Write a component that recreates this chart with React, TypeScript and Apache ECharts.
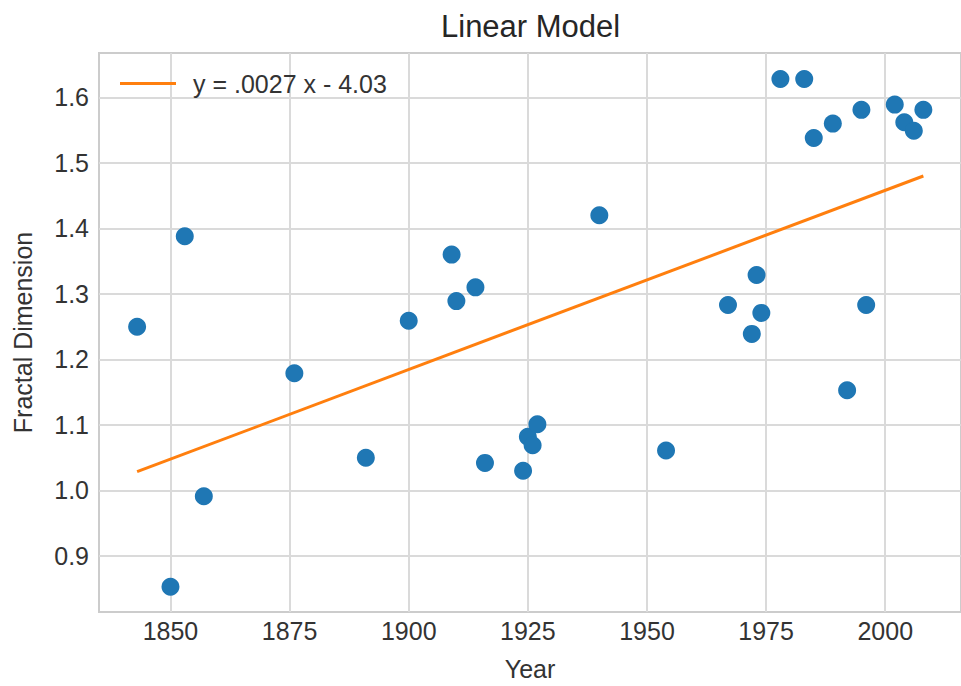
import React, { useEffect, useRef } from "react";
import * as echarts from "echarts";

const years = [1843, 1850, 1853, 1857, 1876, 1891, 1900, 1909, 1910, 1914, 1916, 1924, 1925, 1926, 1927, 1940, 1954, 1967, 1972, 1973, 1974, 1978, 1983, 1985, 1989, 1992, 1995, 1996, 2002, 2004, 2006, 2008];
const dims = [1.25, 0.853, 1.388, 0.991, 1.179, 1.05, 1.259, 1.36, 1.289, 1.31, 1.042, 1.03, 1.082, 1.069, 1.101, 1.42, 1.061, 1.283, 1.239, 1.329, 1.271, 1.628, 1.628, 1.538, 1.56, 1.153, 1.581, 1.283, 1.589, 1.562, 1.549, 1.581];
const fitYears = [1843, 2008];
const fitValues = [1.0286, 1.48];
const xTicks = [1850, 1875, 1900, 1925, 1950, 1975, 2000];
const yTicks = [0.9, 1.0, 1.1, 1.2, 1.3, 1.4, 1.5, 1.6];
const legendLabel = "y = .0027 x - 4.03";

const FONT = "'Liberation Sans', Arial, sans-serif";
const TXT = "#333333";

export default function App() {
  const ref = useRef<HTMLDivElement>(null);
  useEffect(() => {
    if (!ref.current) return;
    const chart = echarts.init(ref.current, undefined, { renderer: "svg" });
    chart.setOption({
      animation: false,
      backgroundColor: "#ffffff",
      textStyle: { fontFamily: FONT },
      title: {
        text: "Linear Model",
        left: 436,
        top: 6,
        textStyle: { fontFamily: FONT, fontSize: 31, fontWeight: "normal", color: "#262626" },
      },
      legend: {
        left: 120,
        top: 71,
        padding: 0,
        itemWidth: 56,
        itemHeight: 3,
        data: [{ name: legendLabel, icon: "rect" }],
        textStyle: { fontFamily: FONT, fontSize: 25, color: TXT, padding: [0, 0, 0, 12] },
      },
      grid: {
        left: 99,
        top: 53,
        right: -2,
        bottom: 72,
        show: true,
        borderColor: "#cccccc",
        borderWidth: 2,
      },
      xAxis: {
        type: "value",
        min: 1835,
        max: 2015.9,
        name: "Year",
        nameLocation: "middle",
        nameGap: 44,
        nameTextStyle: { fontFamily: FONT, fontSize: 25, color: TXT },
        axisLine: { show: false },
        axisTick: { show: false, customValues: xTicks },
        axisLabel: {
          customValues: xTicks,
          fontFamily: FONT,
          fontSize: 25,
          color: TXT,
          margin: 6,
          formatter: (v: number) => String(v),
        },
        splitLine: { show: true, lineStyle: { color: "#dadada", width: 2 } },
      },
      yAxis: {
        type: "value",
        min: 0.8144,
        max: 1.6678,
        name: "Fractal Dimension",
        nameLocation: "middle",
        nameGap: 64,
        nameTextStyle: { fontFamily: FONT, fontSize: 25, color: TXT },
        axisLine: { show: false },
        axisTick: { show: false, customValues: yTicks },
        axisLabel: {
          customValues: yTicks,
          fontFamily: FONT,
          fontSize: 25,
          color: TXT,
          margin: 10,
          formatter: (v: number) => v.toFixed(1),
        },
        splitLine: { show: true, lineStyle: { color: "#dadada", width: 2 } },
      },
      series: [
        {
          name: legendLabel,
          type: "line",
          symbol: "none",
          data: fitYears.map((x, i) => [x, fitValues[i]]),
          lineStyle: { color: "#ff7f0e", width: 3 },
          itemStyle: { color: "#ff7f0e" },
          z: 2,
        },
        {
          name: "data",
          type: "scatter",
          symbol: "circle",
          symbolSize: 18,
          data: years.map((x, i) => [x, dims[i]]),
          itemStyle: { color: "#1f77b4", opacity: 1 },
          z: 3,
        },
      ],
    });
    return () => chart.dispose();
  }, []);
  return (
    <div
      ref={ref}
      style={{ position: "fixed", left: 0, top: 0, width: 961, height: 686 }}
    />
  );
}
